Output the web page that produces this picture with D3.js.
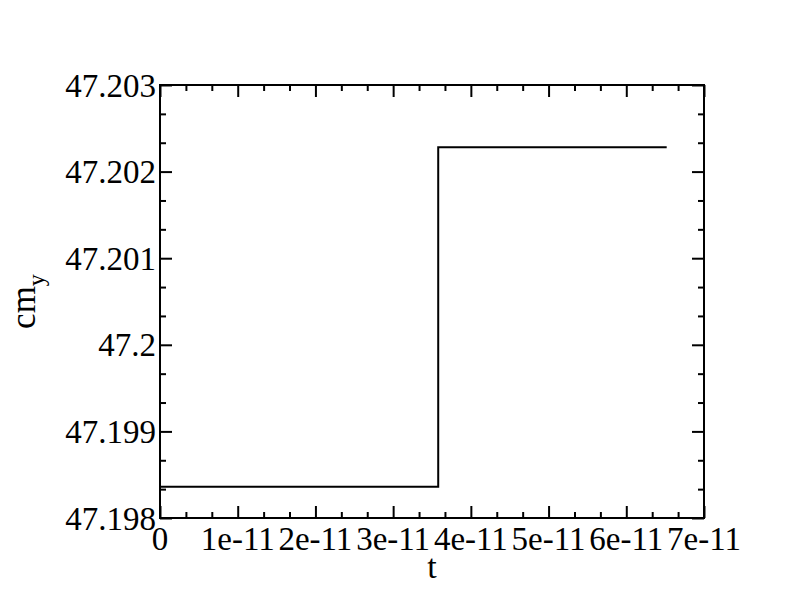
<!DOCTYPE html>
<html>
<head>
<meta charset="utf-8">
<script src="https://cdn.jsdelivr.net/npm/d3@7"></script>
<style>
  body { margin: 0; background: #fff; }
  text { font-family: "Liberation Serif", "Times New Roman", serif; fill: #000; }
</style>
</head>
<body>
<svg id="chart" width="792" height="612"></svg>
<script>
(function() {
    // data
    var times = [0, 3.58e-11, 6.52e-11];
    var cmY = [47.19836, 47.20228, 47.20228];
    var xTicks = [0, 1e-11, 2e-11, 3e-11, 4e-11, 5e-11, 6e-11, 7e-11];
    var xTickLabels = ['0', '1e-11', '2e-11', '3e-11', '4e-11', '5e-11', '6e-11', '7e-11'];
    var yTicks = [47.198, 47.199, 47.2, 47.201, 47.202, 47.203];
    var yTickLabels = ['47.198', '47.199', '47.2', '47.201', '47.202', '47.203'];

    var margin = {top: 85, right: 88, bottom: 94, left: 160},
        width = 792 - margin.left - margin.right,
        height = 612 - margin.top - margin.bottom;

    var svg = d3.select('#chart');
    var g = svg.append('g')
        .attr('transform', 'translate(' + margin.left + ',' + margin.top + ')');

    var x = d3.scaleLinear().domain([0, 7e-11]).range([0, width]);
    var y = d3.scaleLinear().domain([47.198, 47.203]).range([height, 0]);

    // minor ticks: two between each major
    var xMinor = [], yMinor = [];
    d3.range(0, 7).forEach(function(i) {
        xMinor.push((i + 1 / 3) * 1e-11, (i + 2 / 3) * 1e-11);
    });
    d3.range(0, 5).forEach(function(i) {
        yMinor.push(47.198 + (i + 1 / 3) * 0.001, 47.198 + (i + 2 / 3) * 0.001);
    });

    var tickStyle = function(sel) {
        sel.select('.domain').remove();
        sel.selectAll('line').attr('stroke', '#000').attr('stroke-width', 2);
    };

    // inward ticks on all four sides
    g.append('g').attr('transform', 'translate(0,' + height + ')')
        .call(d3.axisTop(x).tickValues(xTicks).tickSize(12).tickFormat(''))
        .call(tickStyle);
    g.append('g').attr('transform', 'translate(0,' + height + ')')
        .call(d3.axisTop(x).tickValues(xMinor).tickSize(6).tickFormat(''))
        .call(tickStyle);
    g.append('g')
        .call(d3.axisBottom(x).tickValues(xTicks).tickSize(12).tickFormat(''))
        .call(tickStyle);
    g.append('g')
        .call(d3.axisBottom(x).tickValues(xMinor).tickSize(6).tickFormat(''))
        .call(tickStyle);
    g.append('g')
        .call(d3.axisRight(y).tickValues(yTicks).tickSize(12).tickFormat(''))
        .call(tickStyle);
    g.append('g')
        .call(d3.axisRight(y).tickValues(yMinor).tickSize(6).tickFormat(''))
        .call(tickStyle);
    g.append('g').attr('transform', 'translate(' + width + ',0)')
        .call(d3.axisLeft(y).tickValues(yTicks).tickSize(12).tickFormat(''))
        .call(tickStyle);
    g.append('g').attr('transform', 'translate(' + width + ',0)')
        .call(d3.axisLeft(y).tickValues(yMinor).tickSize(6).tickFormat(''))
        .call(tickStyle);

    // frame
    g.append('rect')
        .attr('width', width).attr('height', height)
        .attr('fill', 'none').attr('stroke', '#000').attr('stroke-width', 2);

    // tick labels
    g.selectAll('.xlab').data(xTicks).enter().append('text')
        .attr('class', 'xlab')
        .attr('x', function(d) { return x(d); })
        .attr('y', height + 32)
        .attr('text-anchor', 'middle')
        .style('font-size', '33px')
        .text(function(d, i) { return xTickLabels[i]; });

    g.selectAll('.ylab').data(yTicks).enter().append('text')
        .attr('class', 'ylab')
        .attr('x', -4)
        .attr('y', function(d) { return y(d) + 11.5; })
        .attr('text-anchor', 'end')
        .style('font-size', '33px')
        .text(function(d, i) { return yTickLabels[i]; });

    // the step line
    var line = d3.line()
        .x(function(d, i) { return x(times[i]); })
        .y(function(d) { return y(d); })
        .curve(d3.curveStepAfter);

    g.append('path')
        .datum(cmY)
        .attr('d', line)
        .attr('fill', 'none')
        .attr('stroke', '#000')
        .attr('stroke-width', 2);

    // axis titles
    svg.append('text')
        .attr('x', margin.left + x(3.5e-11))
        .attr('y', 578)
        .attr('text-anchor', 'middle')
        .style('font-size', '34px')
        .text('t');

    var yt = svg.append('text')
        .attr('transform', 'translate(35,' + (margin.top + height / 2) + ') rotate(-90)')
        .attr('text-anchor', 'middle')
        .style('font-size', '35px');
    yt.append('tspan').text('cm');
    yt.append('tspan').attr('dy', 9).style('font-size', '24px').text('y');
})();
</script>
</body>
</html>
